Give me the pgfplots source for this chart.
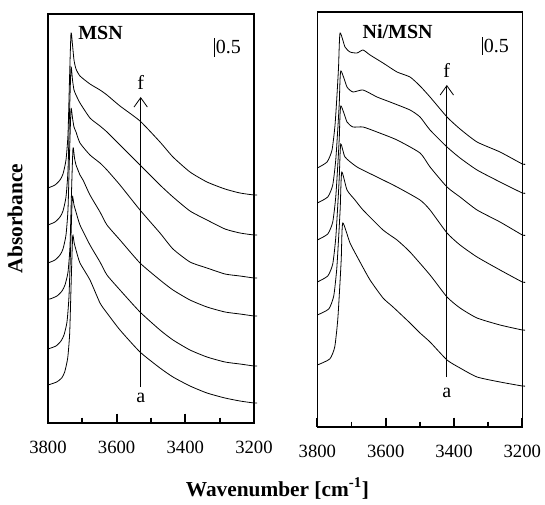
\documentclass[border=0pt]{standalone}
\usepackage{fontspec}
\setmainfont{Liberation Serif}
\usepackage{pgfplots}
\pgfplotsset{compat=1.18}
\usetikzlibrary{arrows.meta}

\pgfplotsset{
    spectrum/.style={
        scale only axis,
        x dir=reverse,
        xmin=3200, xmax=3800,
        ymin=0,
        xtick={3200,3400,3600,3800},
        minor xtick={3300,3500,3700},
        ytick=\empty,
        xtick pos=left,
        xtick align=outside,
        major tick length=-7pt,
        minor tick length=-4pt,
        xtick style={draw=black, line width=1.3pt},
        axis line style={line width=1.2pt},
        /pgf/number format/assume math mode=true,
        /pgf/number format/set thousands separator={},
        xticklabel style={font=\fontsize{14}{14}\selectfont, yshift=-17pt},
        clip=false,
        cycle list={black,solid,line width=0.6pt,smooth,tension=0.35\\},
    },
}
\tikzset{
    barb/.style={-{Straight Barb[length=7pt, width=10pt, line width=0.6pt]}, line width=0.6pt},
}

\begin{document}
\begin{tikzpicture}
\path[use as bounding box] (-36pt,-60.75pt) rectangle (372.75pt,317.25pt);

% MSN
\begin{axis}[spectrum,
    at={(0,0)},
    width=154.5pt, height=306.75pt,
    ymax=409,
    ylabel={\bfseries Absorbance},
    ylabel style={at={(axis description cs:-0.16,0.5)}, anchor=center, font=\fontsize{16}{16}\selectfont},
    xlabel={\bfseries Wavenumber [cm\textsuperscript{-1}]},
    xlabel style={at={(axis description cs:1.114,-0.16)}, anchor=center, font=\fontsize{16}{16}\selectfont},
]
% a
\addplot coordinates {(3800,38) (3774.7,41) (3760.1,45) (3751.4,51) (3742.6,65) (3736.8,90) (3732.4,142) (3728.1,187) (3723.7,180) (3718.4,173) (3706.8,160) (3677.7,143) (3648.5,120) (3628.2,110) (3590.3,93) (3532,71) (3473.8,55) (3435.9,46) (3386.4,37) (3336.9,30) (3284.5,25) (3240.8,22) (3200,20) (3191,20)};
% b
\addplot coordinates {(3800,74) (3776.7,77) (3762.1,82) (3753.4,88) (3744.7,101) (3738.8,127) (3733.6,180) (3729.2,226) (3724.3,218) (3718.4,211) (3706.8,198) (3677.7,178) (3648.5,161) (3628.2,148) (3590.3,133) (3532,111) (3473.8,93) (3435.9,83) (3386.4,73) (3336.9,66) (3284.5,61) (3240.8,59) (3200,57) (3191,57)};
% c
\addplot coordinates {(3800,124) (3794.2,124) (3773.8,127) (3759.2,132) (3750.5,138) (3741.7,151) (3735.9,177) (3731.6,230) (3727.2,275) (3722.8,265) (3718.4,258) (3706.8,248) (3698,243) (3677.7,228) (3648.5,211) (3628.2,198) (3590.3,183) (3532,160) (3473.8,143) (3435.9,133) (3386.4,123) (3336.9,116) (3284.5,111) (3240.8,109) (3200,107) (3191,107)};
% d
\addplot coordinates {(3800,160) (3779.6,163) (3765,168) (3756.3,174) (3747.6,188) (3741.7,214) (3737.4,268) (3733,314) (3728.6,305) (3724.3,296) (3718.4,291) (3706.8,280) (3677.7,268) (3648.5,260) (3628.2,253) (3590.3,238) (3532,213) (3473.8,190) (3435.9,174) (3386.4,161) (3336.9,155) (3284.5,149) (3240.8,147) (3200,145) (3191,145)};
% e
\addplot coordinates {(3800,198) (3779.6,201) (3765,206) (3756.3,212) (3747.6,226) (3741.7,253) (3737.4,309) (3733,356) (3728.6,343) (3724.3,333) (3718.4,328) (3706.8,320) (3677.7,305) (3648.5,297) (3628.2,291) (3590.3,278) (3532,258) (3473.8,238) (3435.9,226) (3386.4,212) (3336.9,203) (3284.5,194) (3240.8,190) (3200,188) (3191,188)};
% f
\addplot coordinates {(3800,235) (3779.6,238) (3765,243) (3756.3,249) (3747.6,263) (3741.7,289) (3737.4,343) (3733,390) (3728.6,378) (3724.3,363) (3718.4,354) (3706.8,347) (3677.7,339) (3648.5,333) (3628.2,328) (3590.3,317) (3532,302) (3473.8,281) (3435.9,266) (3386.4,251) (3336.9,241) (3284.5,234) (3240.8,230) (3200,228) (3191,228)};

\pgfplotsinvokeforeach{3400,3600}{\draw[line width=1.3pt] (axis cs:#1,0) -- ++(0pt,7pt);}
\pgfplotsinvokeforeach{3300,3500,3700}{\draw[line width=1.1pt] (axis cs:#1,0) -- ++(0pt,4pt);}

\node[font=\fontsize{15}{15}\selectfont\bfseries] at (axis cs:3647,390) {MSN};
\draw[line width=0.75pt] (axis cs:3316,366) -- (axis cs:3316,385);
\node[anchor=west, inner sep=1pt, font=\fontsize{15}{15}\selectfont] at (axis cs:3316,376) {0.5};
\draw[barb] (axis cs:3530,36) -- (axis cs:3530,326);
\node[font=\fontsize{15}{15}\selectfont] at (axis cs:3530,25) {a};
\node[font=\fontsize{15}{15}\selectfont] at (axis cs:3530,341) {f};
\end{axis}

% Ni/MSN
\begin{axis}[spectrum,
    at={(202pt,-3pt)},
    width=153.75pt, height=311.25pt,
    ymax=415,
]
% a
\addplot coordinates {(3800,62) (3763.7,68) (3749.1,80) (3740.3,107) (3734.4,140) (3730,168) (3725.7,204) (3704.3,184) (3675,165) (3645.7,147) (3607.7,129) (3578.4,120) (3528.7,104) (3499.4,94) (3470.1,85) (3420.4,67) (3382.3,59) (3332.5,50) (3265.2,45) (3200,41) (3192,41)};
% b
\addplot coordinates {(3800,112) (3766.6,118) (3752,131) (3743.2,158) (3737.4,191) (3733,219) (3728.6,255) (3713.1,237) (3689.7,227) (3666.2,217) (3607.7,197) (3566.7,187) (3528.7,175) (3470.1,152) (3420.4,130) (3382.3,119) (3332.5,109) (3265.2,102) (3200,97) (3192,97)};
% c
\addplot coordinates {(3800,145) (3769.5,151) (3754.9,163) (3746.1,189) (3740.3,221) (3735.9,249) (3731.5,283) (3719,270) (3683.8,260) (3625.3,250) (3566.7,240) (3499.4,227) (3470.1,217) (3420.4,194) (3382.3,182) (3332.5,170) (3265.2,157) (3200,145) (3192,145)};
% d
\addplot coordinates {(3800,187) (3769.5,193) (3754.9,205) (3746.1,230) (3740.3,261) (3735.9,288) (3731.5,321) (3713.1,305) (3695.5,300) (3666.2,300) (3625.3,295) (3566.7,287) (3499.4,274) (3470.1,260) (3420.4,240) (3382.3,230) (3332.5,217) (3265.2,205) (3200,192) (3192,192)};
% e
\addplot coordinates {(3800,224) (3769.5,230) (3754.9,242) (3746.1,267) (3740.3,297) (3735.9,323) (3731.5,356) (3713.1,340) (3695.5,335) (3666.2,337) (3625.3,330) (3587.2,325) (3528.7,317) (3499.4,310) (3470.1,297) (3420.4,280) (3382.3,269) (3332.5,257) (3265.2,245) (3200,234) (3192,234)};
% f
\addplot coordinates {(3800,259) (3771.6,265) (3757,277) (3748.2,302) (3742.3,333) (3737.9,360) (3733.6,394) (3719,380) (3704.3,375) (3683.8,374) (3666.2,377) (3645.7,372) (3607.7,364) (3566.7,355) (3528.7,350) (3499.4,341) (3470.1,330) (3420.4,310) (3382.3,298) (3332.5,285) (3265.2,275) (3200,263) (3192,263)};

\pgfplotsinvokeforeach{3400,3600}{\draw[line width=1.3pt] (axis cs:#1,0) -- ++(0pt,7pt);}
\pgfplotsinvokeforeach{3300,3500,3700}{\draw[line width=1.1pt] (axis cs:#1,0) -- ++(0pt,4pt);}

\node[font=\fontsize{15}{15}\selectfont\bfseries] at (axis cs:3565,395) {Ni/MSN};
\draw[line width=0.75pt] (axis cs:3317,372) -- (axis cs:3317,390);
\node[anchor=west, inner sep=1pt, font=\fontsize{15}{15}\selectfont] at (axis cs:3317,381) {0.5};
\draw[barb] (axis cs:3421,50) -- (axis cs:3421,342);
\node[font=\fontsize{15}{15}\selectfont] at (axis cs:3421,34) {a};
\node[font=\fontsize{15}{15}\selectfont] at (axis cs:3421,357) {f};
\end{axis}
\end{tikzpicture}
\end{document}
